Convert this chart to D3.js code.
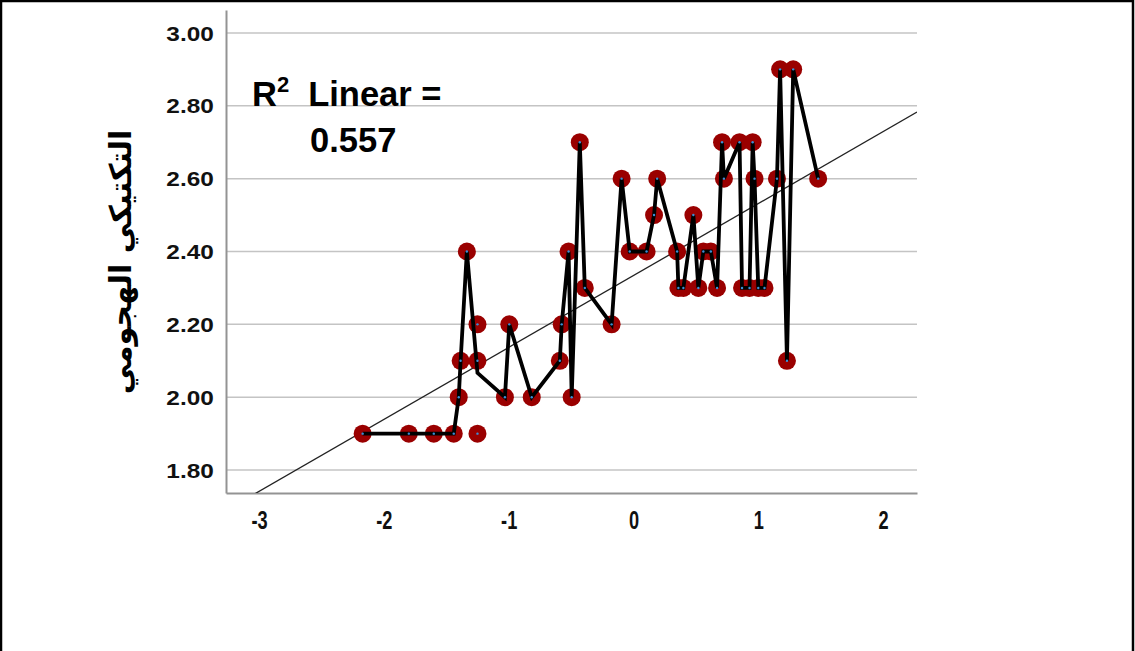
<!DOCTYPE html>
<html>
<head>
<meta charset="utf-8">
<script src="https://cdn.jsdelivr.net/npm/d3@7"></script>
<style>
  body { margin: 0; background: #fff; }
  svg { display: block; }
</style>
</head>
<body>
<svg id="chart" width="1135" height="651"></svg>
<script>
var xValues = [-2.17, -1.80, -1.60, -1.44, -1.40, -1.385, -1.335, -1.25, -1.25, -1.25,
               -1.03, -0.995, -0.815, -0.59, -0.575, -0.52, -0.495, -0.43, -0.39, -0.175,
               -0.095, -0.03, 0.105, 0.165, 0.19, 0.35, 0.36, 0.40, 0.48, 0.52,
               0.56, 0.62, 0.67, 0.71, 0.725, 0.85, 0.87, 0.93, 0.955, 0.97,
               1.00, 1.05, 1.15, 1.175, 1.23, 1.28, 1.48];
var yValues = [1.9, 1.9, 1.9, 1.9, 2.0, 2.1, 2.4, 2.1, 2.2, 1.9,
               2.0, 2.2, 2.0, 2.1, 2.2, 2.4, 2.0, 2.7, 2.3, 2.2,
               2.6, 2.4, 2.4, 2.5, 2.6, 2.4, 2.3, 2.3, 2.5, 2.3,
               2.4, 2.4, 2.3, 2.7, 2.6, 2.7, 2.3, 2.3, 2.7, 2.6,
               2.3, 2.3, 2.6, 2.9, 2.1, 2.9, 2.6];
var yTicks = [1.8, 2.0, 2.2, 2.4, 2.6, 2.8, 3.0];
var xTicks = [-3, -2, -1, 0, 1, 2];
var fitIntercept = 2.334, fitSlope = 0.1975;   // fit line as drawn
var fitLabel = ['Linear =', '0.557'];
var yTitle = 'التكتيكي الهجومي';

(function () {
    var points = xValues.map(function (d, i) { return {x: d, y: yValues[i]}; });

    var svg = d3.select('#chart');
    var pLeft = 226, pRight = 917, pTop = 10, pBottom = 493;

    var x = d3.scaleLinear().domain([-3.265, 2.272]).range([pLeft, pRight]);
    var y = d3.scaleLinear().domain([1.737, 3.063]).range([pBottom, pTop]);

    // frame
    svg.append('rect').attr('x', 1).attr('y', 1).attr('width', 1132).attr('height', 680)
        .attr('fill', 'none').attr('stroke', '#000').attr('stroke-width', 2.5);

    // grid
    svg.append('g').selectAll('line').data(yTicks).enter().append('line')
        .attr('x1', pLeft).attr('x2', pRight)
        .attr('y1', function (d) { return y(d); }).attr('y2', function (d) { return y(d); })
        .attr('stroke', '#c4c4c4').attr('stroke-width', 1.5);

    // axes
    var yAxis = svg.append('g').attr('transform', 'translate(' + pLeft + ',0)')
        .call(d3.axisLeft(y).tickValues(yTicks).tickFormat(d3.format('.2f')).tickSize(0).tickSizeOuter(0).tickPadding(10));
    var xAxis = svg.append('g').attr('transform', 'translate(0,' + pBottom + ')')
        .call(d3.axisBottom(x).tickValues(xTicks).tickFormat(function (d) { return String(d); })
            .tickSize(0).tickSizeOuter(0).tickPadding(18));

    [yAxis, xAxis].forEach(function (a) {
        a.select('.domain').attr('stroke', '#939393').attr('stroke-width', 2);
        a.selectAll('text').attr('fill', '#111').style('font-family', 'Liberation Sans, Arial, sans-serif')
            .style('font-weight', 'bold');
    });
    yAxis.selectAll('text').style('font-size', '20px').attr('dy', '0.36em').attr('transform', 'scale(1.22,1)');
    xAxis.selectAll('text').style('font-size', '26px').attr('transform', 'scale(0.7,1)');

    // y title
    svg.append('text')
        .attr('transform', 'translate(131,262) rotate(-90)')
        .attr('text-anchor', 'middle')
        .style('font-family', 'DejaVu Sans, sans-serif').style('font-weight', 'bold').style('font-size', '30px')
        .attr('fill', '#000').text(yTitle);

    // clip for fit line
    svg.append('clipPath').attr('id', 'plotclip').append('rect')
        .attr('x', pLeft).attr('y', pTop).attr('width', pRight - pLeft).attr('height', pBottom - pTop);

    var xd = x.domain();
    svg.append('line').attr('clip-path', 'url(#plotclip)')
        .attr('x1', x(xd[0])).attr('y1', y(fitIntercept + fitSlope * xd[0]))
        .attr('x2', x(xd[1])).attr('y2', y(fitIntercept + fitSlope * xd[1]))
        .attr('stroke', '#222').attr('stroke-width', 1.3);

    // markers
    svg.append('g').selectAll('circle').data(points).enter().append('circle')
        .attr('cx', function (d) { return x(d.x); }).attr('cy', function (d) { return y(d.y); })
        .attr('r', 9).attr('fill', '#9a0000');

    // interpolation line through the mean at each x
    var means = Array.from(d3.rollup(points, function (v) { return d3.mean(v, function (d) { return d.y; }); },
        function (d) { return d.x; }), function (e) { return {x: e[0], y: e[1]}; })
        .sort(function (a, b) { return a.x - b.x; });

    svg.append('path').datum(means)
        .attr('d', d3.line().x(function (d) { return x(d.x); }).y(function (d) { return y(d.y); }))
        .attr('fill', 'none').attr('stroke', '#000').attr('stroke-width', 3.8).attr('stroke-linejoin', 'miter');

    svg.append('g').selectAll('circle').data(points).enter().append('circle')
        .attr('cx', function (d) { return x(d.x); }).attr('cy', function (d) { return y(d.y); })
        .attr('r', 1.2).attr('fill', '#3d8fd6');

    // R2 label
    var lab = svg.append('text').attr('x', 252).attr('y', 106)
        .style('font-family', 'Liberation Sans, Arial, sans-serif').style('font-weight', 'bold')
        .style('font-size', '34.5px').attr('fill', '#000');
    lab.append('tspan').text('R');
    lab.append('tspan').attr('dy', -14).style('font-size', '22px').text('2');
    lab.append('tspan').attr('dy', 14).attr('dx', 19).text(fitLabel[0]);
    svg.append('text').attr('x', 310).attr('y', 152)
        .style('font-family', 'Liberation Sans, Arial, sans-serif').style('font-weight', 'bold')
        .style('font-size', '34.5px').attr('fill', '#000').text(fitLabel[1]);
})();
</script>
</body>
</html>
